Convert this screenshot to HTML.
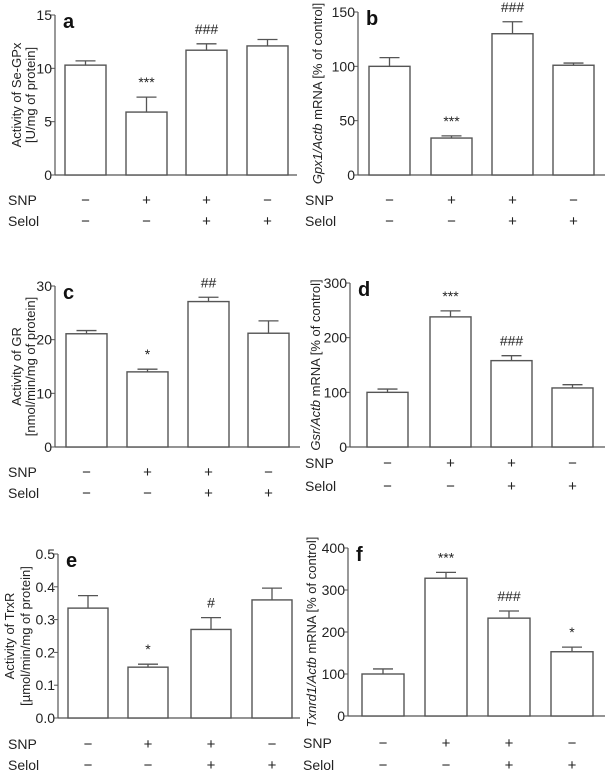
<!DOCTYPE html>
<html><head><meta charset="utf-8"><style>
body{margin:0;background:#fff;}
svg{display:block;font-family:"Liberation Sans",Arial,sans-serif;}
</style></head><body>
<svg id="fig" width="605" height="770" viewBox="0 0 605 770"></svg>
<script>
const panelLetters=["a","b","c","d","e","f"];
const aVals=[10.3,5.9,11.7,12.1], aErr=[0.4,1.4,0.6,0.6], aSig=["","***","###",""];
const bVals=[100,34,130,101], bErr=[8,2,11,2], bSig=["","***","###",""];
const cVals=[21.1,14.0,27.1,21.2], cErr=[0.6,0.5,0.8,2.3], cSig=["","*","##",""];
const dVals=[100,238,158,108], dErr=[6,11,9,6], dSig=["","***","###",""];
const eVals=[0.335,0.155,0.27,0.36], eErr=[0.038,0.009,0.036,0.036], eSig=["","*","#",""];
const fVals=[100,328,233,153], fErr=[12,14,17,11], fSig=["","***","###","*"];
const aTicks=[0,5,10,15], bTicks=[0,50,100,150], cTicks=[0,10,20,30];
const dTicks=[0,100,200,300], eTicks=["0.0","0.1","0.2","0.3","0.4","0.5"], fTicks=[0,100,200,300,400];
const snpRow=["−","+","+","−"], selolRow=["−","−","+","+"];

const NS="http://www.w3.org/2000/svg";
const svg=document.getElementById("fig");
function mk(tag,attrs,parent,text){const e=document.createElementNS(NS,tag);for(const k in attrs)e.setAttribute(k,attrs[k]);if(text!==undefined)e.textContent=text;(parent||svg).appendChild(e);return e;}

const panels=[
 {L:"a",vals:aVals,err:aErr,sig:aSig,ticks:aTicks,ax:55,yTop:15,y0:175,bx:[65,126,186,247],bw:41,xEnd:297,snpY:200,selY:221,labX:8,ylab:["Activity of Se-GPx","[U/mg of protein]"],ylx:[17,31]},
 {L:"b",vals:bVals,err:bErr,sig:bSig,ticks:bTicks,ax:358,yTop:12,y0:175,bx:[369,431,492,553],bw:41,xEnd:605,snpY:200,selY:221,labX:305,ylab:["<i>Gpx1/Actb</i> mRNA [% of control]"],ylx:[318]},
 {L:"c",vals:cVals,err:cErr,sig:cSig,ticks:cTicks,ax:55,yTop:286,y0:447,bx:[66,127,188,248],bw:41,xEnd:300,snpY:472,selY:493,labX:8,ylab:["Activity of GR","[nmol/min/mg of protein]"],ylx:[17,31]},
 {L:"d",vals:dVals,err:dErr,sig:dSig,ticks:dTicks,ax:350,yTop:283,y0:447,bx:[367,430,491,552],bw:41,xEnd:605,snpY:463,selY:486,labX:305,ylab:["<i>Gsr/Actb</i> mRNA [% of control]"],ylx:[316]},
 {L:"e",vals:eVals,err:eErr,sig:eSig,ticks:eTicks,ax:58,yTop:554,y0:718,bx:[68,128,191,252],bw:40,xEnd:300,snpY:744,selY:765,labX:8,ylab:["Activity of TrxR","[µmol/min/mg of protein]"],ylx:[10,26]},
 {L:"f",vals:fVals,err:fErr,sig:fSig,ticks:fTicks,ax:348,yTop:548,y0:716,bx:[362,425,488,551],bw:42,xEnd:605,snpY:743,selY:765,labX:303,ylab:["<i>Txnrd1/Actb</i> mRNA  [% of control]"],ylx:[312]}
];

panels.forEach(p=>{
  const g=mk("g",{});
  
  
  const nums=p.ticks.map(Number);
  const tmax=Math.max(...nums);
  const y=v=>p.y0-(v/tmax)*(p.y0-p.yTop);
  const ya=mk("line",{x1:p.ax,y1:p.yTop,x2:p.ax,y2:p.y0,stroke:"#555","stroke-width":1.2},g);
  
  
  const xa=mk("line",{x1:p.ax,y1:p.y0,x2:p.xEnd,y2:p.y0,stroke:"#555","stroke-width":1.2},g);
  
  
  p.ticks.forEach((t,i)=>{
    const yy=y(nums[i]);
    mk("line",{x1:p.ax-4,y1:yy,x2:p.ax,y2:yy,stroke:"#555","stroke-width":1},g);
    const tl=mk("text",{x:p.ax-3,y:yy+5,"text-anchor":"end","font-size":"14",fill:"#222"},g,String(t));
    
    
  });
  const lt=mk("text",{x:p.ax+8,y:p.yTop+13,"font-size":"20","font-weight":"bold",fill:"#111"},g,p.L);
  
  
  const cy=(p.yTop+p.y0)/2;
  p.ylab.forEach((s,i)=>{
    const t=mk("text",{x:0,y:0,"text-anchor":"middle","font-size":"13",fill:"#222",transform:`translate(${p.ylx[i]+4},${cy}) rotate(-90)`},g);
    t.innerHTML=s.replace(/<i>(.*?)<\/i>/g,'<tspan font-style="italic">$1</tspan>');
    
    
  });
  p.vals.forEach((v,i)=>{
    const x=p.bx[i], yb=y(v), ye=y(v+p.err[i]), cx=x+p.bw/2;
    const r=mk("rect",{x:x,y:yb,width:p.bw,height:p.y0-yb,fill:"#fff",stroke:"#555","stroke-width":1.4},g);
    
    
    mk("line",{x1:cx,y1:yb,x2:cx,y2:ye,stroke:"#555","stroke-width":1.3},g);
    mk("line",{x1:cx-10,y1:ye,x2:cx+10,y2:ye,stroke:"#555","stroke-width":1.3},g);
    if(p.sig[i]){
      const s=mk("text",{x:cx,y:ye-10,"text-anchor":"middle","font-size":"14",fill:"#222"},g,p.sig[i]);
      
      
    }
    const a=mk("text",{x:cx,y:p.snpY+5,"text-anchor":"middle","font-size":"15",fill:"#222"},g,snpRow[i]);
    
    
    const b=mk("text",{x:cx,y:p.selY+5,"text-anchor":"middle","font-size":"15",fill:"#222"},g,selolRow[i]);
    
    
  });
  const s1=mk("text",{x:p.labX,y:p.snpY+5,"font-size":"14",fill:"#222"},g,"SNP");
  
  
  const s2=mk("text",{x:p.labX,y:p.selY+5,"font-size":"14",fill:"#222"},g,"Selol");
  
  
});
</script>
</body></html>
